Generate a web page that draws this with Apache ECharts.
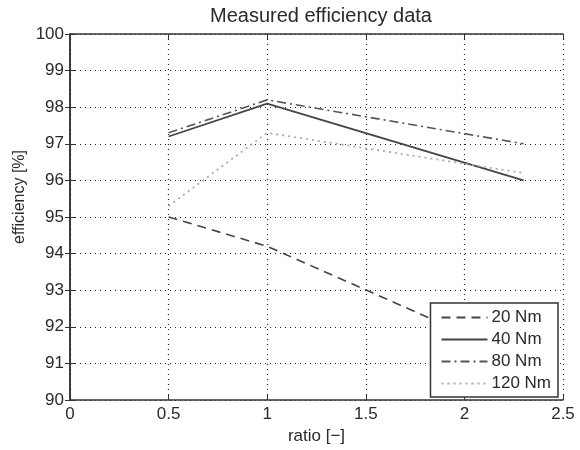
<!DOCTYPE html>
<html><head><meta charset="utf-8">
<script src="https://cdn.jsdelivr.net/npm/echarts@6/dist/echarts.min.js"></script>
<style>html,body{margin:0;padding:0;background:#fff}#c{width:580px;height:450px}</style>
</head><body><div id="c"></div>
<script>
const ratio = [0.5, 1, 2.3];
const names = ['20 Nm', '40 Nm', '80 Nm', '120 Nm'];
const eff20 = [95.0, 94.2, 91.1];
const eff40 = [97.2, 98.1, 96.0];
const eff80 = [97.3, 98.2, 97.0];
const eff120 = [95.3, 97.3, 96.2];
const yTicks = [90, 91, 92, 93, 94, 95, 96, 97, 98, 99, 100];
const xTicks = [0, 0.5, 1, 1.5, 2, 2.5];

const font = 'Liberation Sans, Arial, sans-serif';
const textColor = '#2a2a2a';
const styles = [
  {color: '#444', type: [9, 6], width: 1.6},
  {color: '#444', type: 'solid', width: 1.8},
  {color: '#555', type: [9, 4, 2, 4], width: 1.6},
  {color: '#aaa', type: [2, 4], width: 1.8}
];
const data = [eff20, eff40, eff80, eff120];
const chart = echarts.init(document.getElementById('c'));
const grid = {left: 70, right: 17, top: 34, bottom: 48};
const splitStyle = {show: true, lineStyle: {color: '#222', type: [1, 4], width: 1.2}};
chart.setOption({
  animation: false,
  title: {text: 'Measured efficiency data', left: 316, top: 1, textAlign: 'center',
    textStyle: {fontFamily: font, fontSize: 20, fontWeight: 'normal', color: textColor}},
  grid: grid,
  graphic: [{
    type: 'text', left: 12, top: 150, rotation: Math.PI / 2,
    style: {text: 'efficiency [%]', font: '16px ' + font, fill: textColor}
  }],
  legend: {
    orient: 'vertical', right: 22, top: 303, data: names,
    backgroundColor: '#fff', borderColor: '#333', borderWidth: 1.5,
    padding: [6, 7, 5, 10], itemGap: 5, itemWidth: 46, itemHeight: 14,
    itemStyle: {opacity: 0},
    textStyle: {fontFamily: font, fontSize: 17, color: textColor, padding: [0, 0, 0, -1]}
  },
  xAxis: [{
    type: 'value', min: 0, max: 2.5, interval: 0.5,
    name: 'ratio [\u2212]', nameLocation: 'middle', nameGap: 28,
    nameTextStyle: {fontFamily: font, fontSize: 17, color: textColor},
    axisLine: {show: true, lineStyle: {color: '#333', width: 1.5}},
    axisTick: {show: true, inside: true, length: 5, lineStyle: {color: '#333'}},
    axisLabel: {fontFamily: font, fontSize: 17, color: textColor, margin: 6,
      formatter: v => String(v)},
    splitLine: splitStyle
  }, {
    type: 'value', min: 0, max: 2.5, interval: 0.5, position: 'top',
    axisLine: {show: true, lineStyle: {color: '#333', width: 1.5}},
    axisTick: {show: true, inside: true, length: 5, lineStyle: {color: '#333'}},
    axisLabel: {show: false}, splitLine: {show: false}
  }],
  yAxis: [{
    type: 'value', min: 90, max: 100, interval: 1,
    axisLine: {show: true, lineStyle: {color: '#333', width: 1.5}},
    axisTick: {show: true, inside: true, length: 5, lineStyle: {color: '#333'}},
    axisLabel: {fontFamily: font, fontSize: 17, color: textColor, margin: 6},
    splitLine: splitStyle
  }, {
    type: 'value', min: 90, max: 100, interval: 1, position: 'right',
    axisLine: {show: true, lineStyle: {color: '#333', width: 1.5}},
    axisTick: {show: true, inside: true, length: 5, lineStyle: {color: '#333'}},
    axisLabel: {show: false}, splitLine: {show: false}
  }],
  series: names.map((n, i) => ({
    name: n, type: 'line', xAxisIndex: 0, yAxisIndex: 0,
    data: ratio.map((r, j) => [r, data[i][j]]),
    showSymbol: false, symbol: 'none',
    lineStyle: styles[i], itemStyle: {color: styles[i].color},
    z: 3
  }))
});
</script></body></html>
